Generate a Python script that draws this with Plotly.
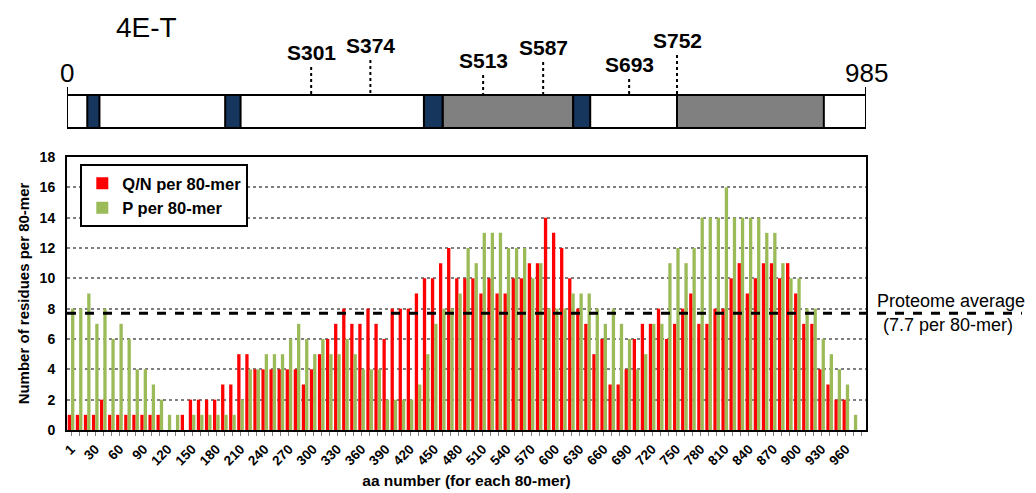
"""
4E-T : Q/N et P par fenêtre de 80 résidus, avec schéma de la protéine au-dessus.
"""

import plotly.graph_objects as go

# ──────────────────────────────────────────
# DONNÉES
# ──────────────────────────────────────────

aa_positions = ["1"] + [str(10 * k) for k in range(1, 99)]

qn_per_80mer = [
    1, 1, 1, 1, 2, 1, 1, 1, 1, 1, 1, 1, 0, 0, 1, 2, 2, 2, 2, 3,
    3, 5, 5, 4, 4, 4, 4, 4, 4, 3, 4, 5, 6, 7, 8, 7, 7, 8, 7, 6,
    8, 8, 8, 9, 10, 10, 11, 12, 10, 10, 10, 9, 10, 9, 9, 10, 10, 11, 11, 14,
    13, 12, 10, 8, 7, 5, 6, 3, 3, 4, 6, 7, 7, 8, 6, 7, 8, 9, 7, 7,
    8, 8, 10, 11, 9, 10, 11, 11, 10, 11, 9, 7, 7, 4, 3, 2, 2, 0, 0,
]

p_per_80mer = [
    8, 8, 9, 7, 8, 6, 7, 6, 4, 4, 3, 2, 1, 1, 0, 1, 1, 1, 1, 1,
    1, 2, 4, 4, 5, 5, 5, 6, 7, 6, 5, 6, 5, 5, 6, 5, 4, 4, 4, 2,
    2, 2, 2, 3, 5, 7, 8, 8, 9, 12, 11, 13, 13, 13, 12, 12, 12, 10, 11, 8,
    8, 8, 9, 9, 9, 8, 7, 8, 7, 6, 4, 5, 7, 7, 11, 12, 11, 12, 14, 14,
    14, 16, 14, 14, 14, 14, 13, 13, 11, 10, 10, 8, 8, 6, 5, 4, 3, 1, 0,
]

proteome_average = 7.7

protein_length = 985
blue_motifs = [(25, 40), (195, 214), (440, 463), (624, 645)]
gray_domains = [(463, 624), (752, 933)]
sites = [301, 374, 513, 587, 693, 752]

RED = "#ff0000"
GREEN = "#9bbb59"
NAVY = "#17365d"
GRAY = "#808080"
FONT = "Arial, Liberation Sans, sans-serif"

# La page HTML a une marge de 8 px : on décale la zone de tracé en conséquence.
PAGE_OFFSET = 8
W, H = 1036, 493
PLOT_LEFT, PLOT_RIGHT = 66.7 - PAGE_OFFSET, 866 - PAGE_OFFSET
PLOT_TOP, PLOT_BOTTOM = 157 - PAGE_OFFSET, 430 - PAGE_OFFSET
AREA_H = PLOT_BOTTOM  # t = 0


def px_to_paper_x(x):
    """Pixel horizontal de la fenêtre -> coordonnée paper."""
    return (x - 66.7) / 799.3


# ──────────────────────────────────────────
# HISTOGRAMME
# ──────────────────────────────────────────

fig = go.Figure()
fig.add_trace(go.Bar(x=aa_positions, y=qn_per_80mer, name="<b>Q/N per 80-mer</b>",
                     marker=dict(color=RED, line=dict(width=0))))
fig.add_trace(go.Bar(x=aa_positions, y=p_per_80mer, name="<b>P per 80-mer</b>",
                     marker=dict(color=GREEN, line=dict(width=0))))

tick_text = [c if i % 3 == 0 else "" for i, c in enumerate(aa_positions)]

fig.update_layout(
    width=W, height=H,
    margin=dict(l=PLOT_LEFT, r=W - PLOT_RIGHT, t=0, b=H - PLOT_BOTTOM, autoexpand=False),
    plot_bgcolor="white", paper_bgcolor="white",
    font=dict(family=FONT, color="black"),
    barmode="group", bargap=0.18, bargroupgap=0,
    showlegend=True,
    legend=dict(x=px_to_paper_x(80), y=(430 - 164) / AREA_H, xanchor="left", yanchor="top",
                bordercolor="black", borderwidth=2, bgcolor="white",
                font=dict(size=16.5), tracegroupgap=0, itemwidth=30),
    xaxis=dict(type="category", tickmode="array", tickvals=aa_positions, ticktext=tick_text,
               tickangle=-45, tickfont=dict(size=13.5, weight="bold"),
               ticks="outside", ticklen=4, tickcolor="#808080", automargin=False,
               showline=True, mirror=True, linecolor="black", linewidth=2,
               title=dict(text="<b>aa number (for each 80-mer)</b>", font=dict(size=15.5), standoff=8),
               domain=[0, 1], anchor="y"),
    yaxis=dict(range=[0, 18], dtick=2, domain=[0, (PLOT_BOTTOM - PLOT_TOP) / AREA_H], automargin=False,
               tickfont=dict(size=14, weight="bold"), ticks="", ticklabelstandoff=7,
               showgrid=True, gridcolor="#7f7f7f", griddash="dot", gridwidth=1.5,
               zeroline=False, showline=True, mirror=True, linecolor="black", linewidth=2,
               title=dict(text="<b>Number of residues per 80-mer</b>", font=dict(size=15), standoff=6)),
    xaxis2=dict(range=[0, protein_length], domain=[0, 1], anchor="y2", visible=False),
    # y2 : valeur = pixel vertical de la fenêtre
    yaxis2=dict(range=[154, PAGE_OFFSET], domain=[1 - (154 - PAGE_OFFSET) / AREA_H, 1],
                anchor="x2", visible=False),
)

# moyenne du protéome
fig.add_shape(type="line", xref="paper", yref="y", x0=0, x1=px_to_paper_x(1022),
              y0=proteome_average, y1=proteome_average,
              line=dict(color="black", width=3, dash="dash"))
fig.add_annotation(xref="paper", yref="y", x=px_to_paper_x(951), y=proteome_average, yshift=12,
                   xanchor="center", text="Proteome average", showarrow=False, font=dict(size=18))
fig.add_annotation(xref="paper", yref="y", x=px_to_paper_x(948), y=proteome_average, yshift=-12,
                   xanchor="center", text=f"({proteome_average} per 80-mer)", showarrow=False,
                   font=dict(size=18))

# ──────────────────────────────────────────
# SCHÉMA DE LA PROTÉINE
# ──────────────────────────────────────────

BAR_TOP, BAR_BOTTOM = 95, 128

fig.add_shape(type="rect", xref="x2", yref="y2", x0=0, x1=protein_length,
              y0=BAR_TOP, y1=BAR_BOTTOM, fillcolor="white", line=dict(color="black", width=2))
for start, end in gray_domains:
    fig.add_shape(type="rect", xref="x2", yref="y2", x0=start, x1=end,
                  y0=BAR_TOP, y1=BAR_BOTTOM, fillcolor=GRAY, line=dict(color="black", width=2))
for start, end in blue_motifs:
    fig.add_shape(type="rect", xref="x2", yref="y2", x0=start, x1=end,
                  y0=BAR_TOP, y1=BAR_BOTTOM, fillcolor=NAVY, line=dict(color="black", width=2))

# bornes 0 et 985
for pos in (0, protein_length):
    fig.add_shape(type="line", xref="x2", yref="y2", x0=pos, x1=pos, y0=87, y1=BAR_TOP,
                  line=dict(color="black", width=2))
    fig.add_annotation(xref="x2", yref="y2", x=pos, y=73, text=str(pos), showarrow=False,
                       xanchor="center", font=dict(size=26))

# sites de phosphorylation
label_heights = [52, 45, 60, 47, 64, 40]
for pos, ly in zip(sites, label_heights):
    fig.add_shape(type="line", xref="x2", yref="y2", x0=pos, x1=pos, y0=ly + 15, y1=BAR_TOP,
                  line=dict(color="black", width=2, dash="dot"))
    fig.add_annotation(xref="x2", yref="y2", x=pos, y=ly, text=f"<b>S{pos}</b>",
                       showarrow=False, xanchor="center", font=dict(size=21))

fig.add_annotation(xref="x2", yref="y2", x=98, y=27, text="4E-T", showarrow=False,
                   xanchor="center", font=dict(size=28))

fig.write_html("out.html")
